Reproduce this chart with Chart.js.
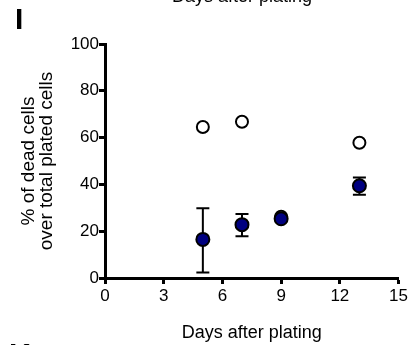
<!DOCTYPE html>
<html>
<head>
<meta charset="utf-8">
<script src="https://cdn.jsdelivr.net/npm/chart.js@4"></script>
<style>
  html, body { margin: 0; padding: 0; background: #fff; }
  #wrap { width: 410px; height: 345px; }
</style>
</head>
<body>
<div id="wrap"><canvas id="chart" width="410" height="345"></canvas></div>
<script>
// values
const days = [5, 7, 9, 13];
const openVals = [64.5, 66.8, 26.2, 57.8];
const filledVals = [16.5, 22.8, 25.3, 39.4];
const filledLow = [2.4, 17.8, 24.5, 35.6];
const filledHigh = [29.8, 27.4, 26.1, 43.0];
const xTicks = [0, 3, 6, 9, 12, 15];
const yTicks = [0, 20, 40, 60, 80, 100];

const FONT = "'Liberation Sans', Arial, sans-serif";

// error bars under the markers
const errorBars = {
  id: 'errorBars',
  beforeDatasetsDraw(chart) {
    const ctx = chart.ctx;
    const xs = chart.scales.x, ys = chart.scales.y;
    ctx.save();
    ctx.strokeStyle = '#000';
    ctx.lineWidth = 2;
    days.forEach((d, i) => {
      const px = xs.getPixelForValue(d);
      const lo = ys.getPixelForValue(filledLow[i]);
      const hi = ys.getPixelForValue(filledHigh[i]);
      if (Math.abs(lo - hi) < 10) return;
      ctx.beginPath();
      ctx.moveTo(px, lo); ctx.lineTo(px, hi);
      ctx.moveTo(px - 6.5, lo); ctx.lineTo(px + 6.5, lo);
      ctx.moveTo(px - 6.5, hi); ctx.lineTo(px + 6.5, hi);
      ctx.stroke();
    });
    ctx.restore();
  }
};

// texts around the plot (panel letters, cut-off title above, y title)
const extras = {
  id: 'extras',
  afterDraw(chart) {
    const ctx = chart.ctx;
    const area = chart.chartArea;
    ctx.save();
    ctx.fillStyle = '#000';
    ctx.textAlign = 'center';
    ctx.textBaseline = 'alphabetic';
    ctx.font = '18px ' + FONT;
    ctx.fillText('Days after plating', 242, 2);
    ctx.fillText('Days after plating', (area.left + area.right) / 2, 338);

    ctx.textAlign = 'left';
    ctx.font = 'bold 30px ' + FONT;
    ctx.fillText('I', 15, 29);
    ctx.fillText('K', 9, 364);

    ctx.translate(38, 161);
    ctx.rotate(-Math.PI / 2);
    ctx.textAlign = 'center';
    ctx.textBaseline = 'middle';
    ctx.font = '19px ' + FONT;
    ctx.fillText('% of dead cells', 0, -9);
    ctx.fillText('over total plated cells', 0, 9);
    ctx.restore();
  }
};

new Chart(document.getElementById('chart'), {
  type: 'scatter',
  data: {
    datasets: [
      {
        label: 'open',
        data: days.map((d, i) => ({ x: d, y: openVals[i] })),
        backgroundColor: '#ffffff',
        borderColor: '#000000',
        borderWidth: 2,
        pointRadius: 6,
        order: 2
      },
      {
        label: 'filled',
        data: days.map((d, i) => ({ x: d, y: filledVals[i] })),
        backgroundColor: '#000080',
        borderColor: '#000000',
        borderWidth: 2,
        pointRadius: 6.5,
        order: 1
      }
    ]
  },
  options: {
    responsive: false,
    animation: false,
    events: [],
    layout: { padding: { top: 44, right: 10, left: 0, bottom: 0 } },
    plugins: { legend: { display: false }, tooltip: { enabled: false } },
    scales: {
      x: {
        type: 'linear',
        min: 0, max: 15,
        afterBuildTicks: s => { s.ticks = xTicks.map(v => ({ value: v })); },
        afterFit: s => { s.height = 67; },
        grid: { drawOnChartArea: false, tickLength: 6, tickColor: '#000', tickWidth: 3 },
        border: { color: '#000', width: 3 },
        ticks: { color: '#000', font: { family: FONT, size: 17 }, padding: 2, maxRotation: 0 }
      },
      y: {
        min: 0, max: 100,
        afterBuildTicks: s => { s.ticks = yTicks.map(v => ({ value: v })); },
        afterFit: s => { s.width = 105; },
        grid: { drawOnChartArea: false, tickLength: 6, tickColor: '#000', tickWidth: 3 },
        border: { color: '#000', width: 3 },
        ticks: { color: '#000', font: { family: FONT, size: 17 }, padding: 0 }
      }
    }
  },
  plugins: [errorBars, extras]
});
</script>
</body>
</html>
